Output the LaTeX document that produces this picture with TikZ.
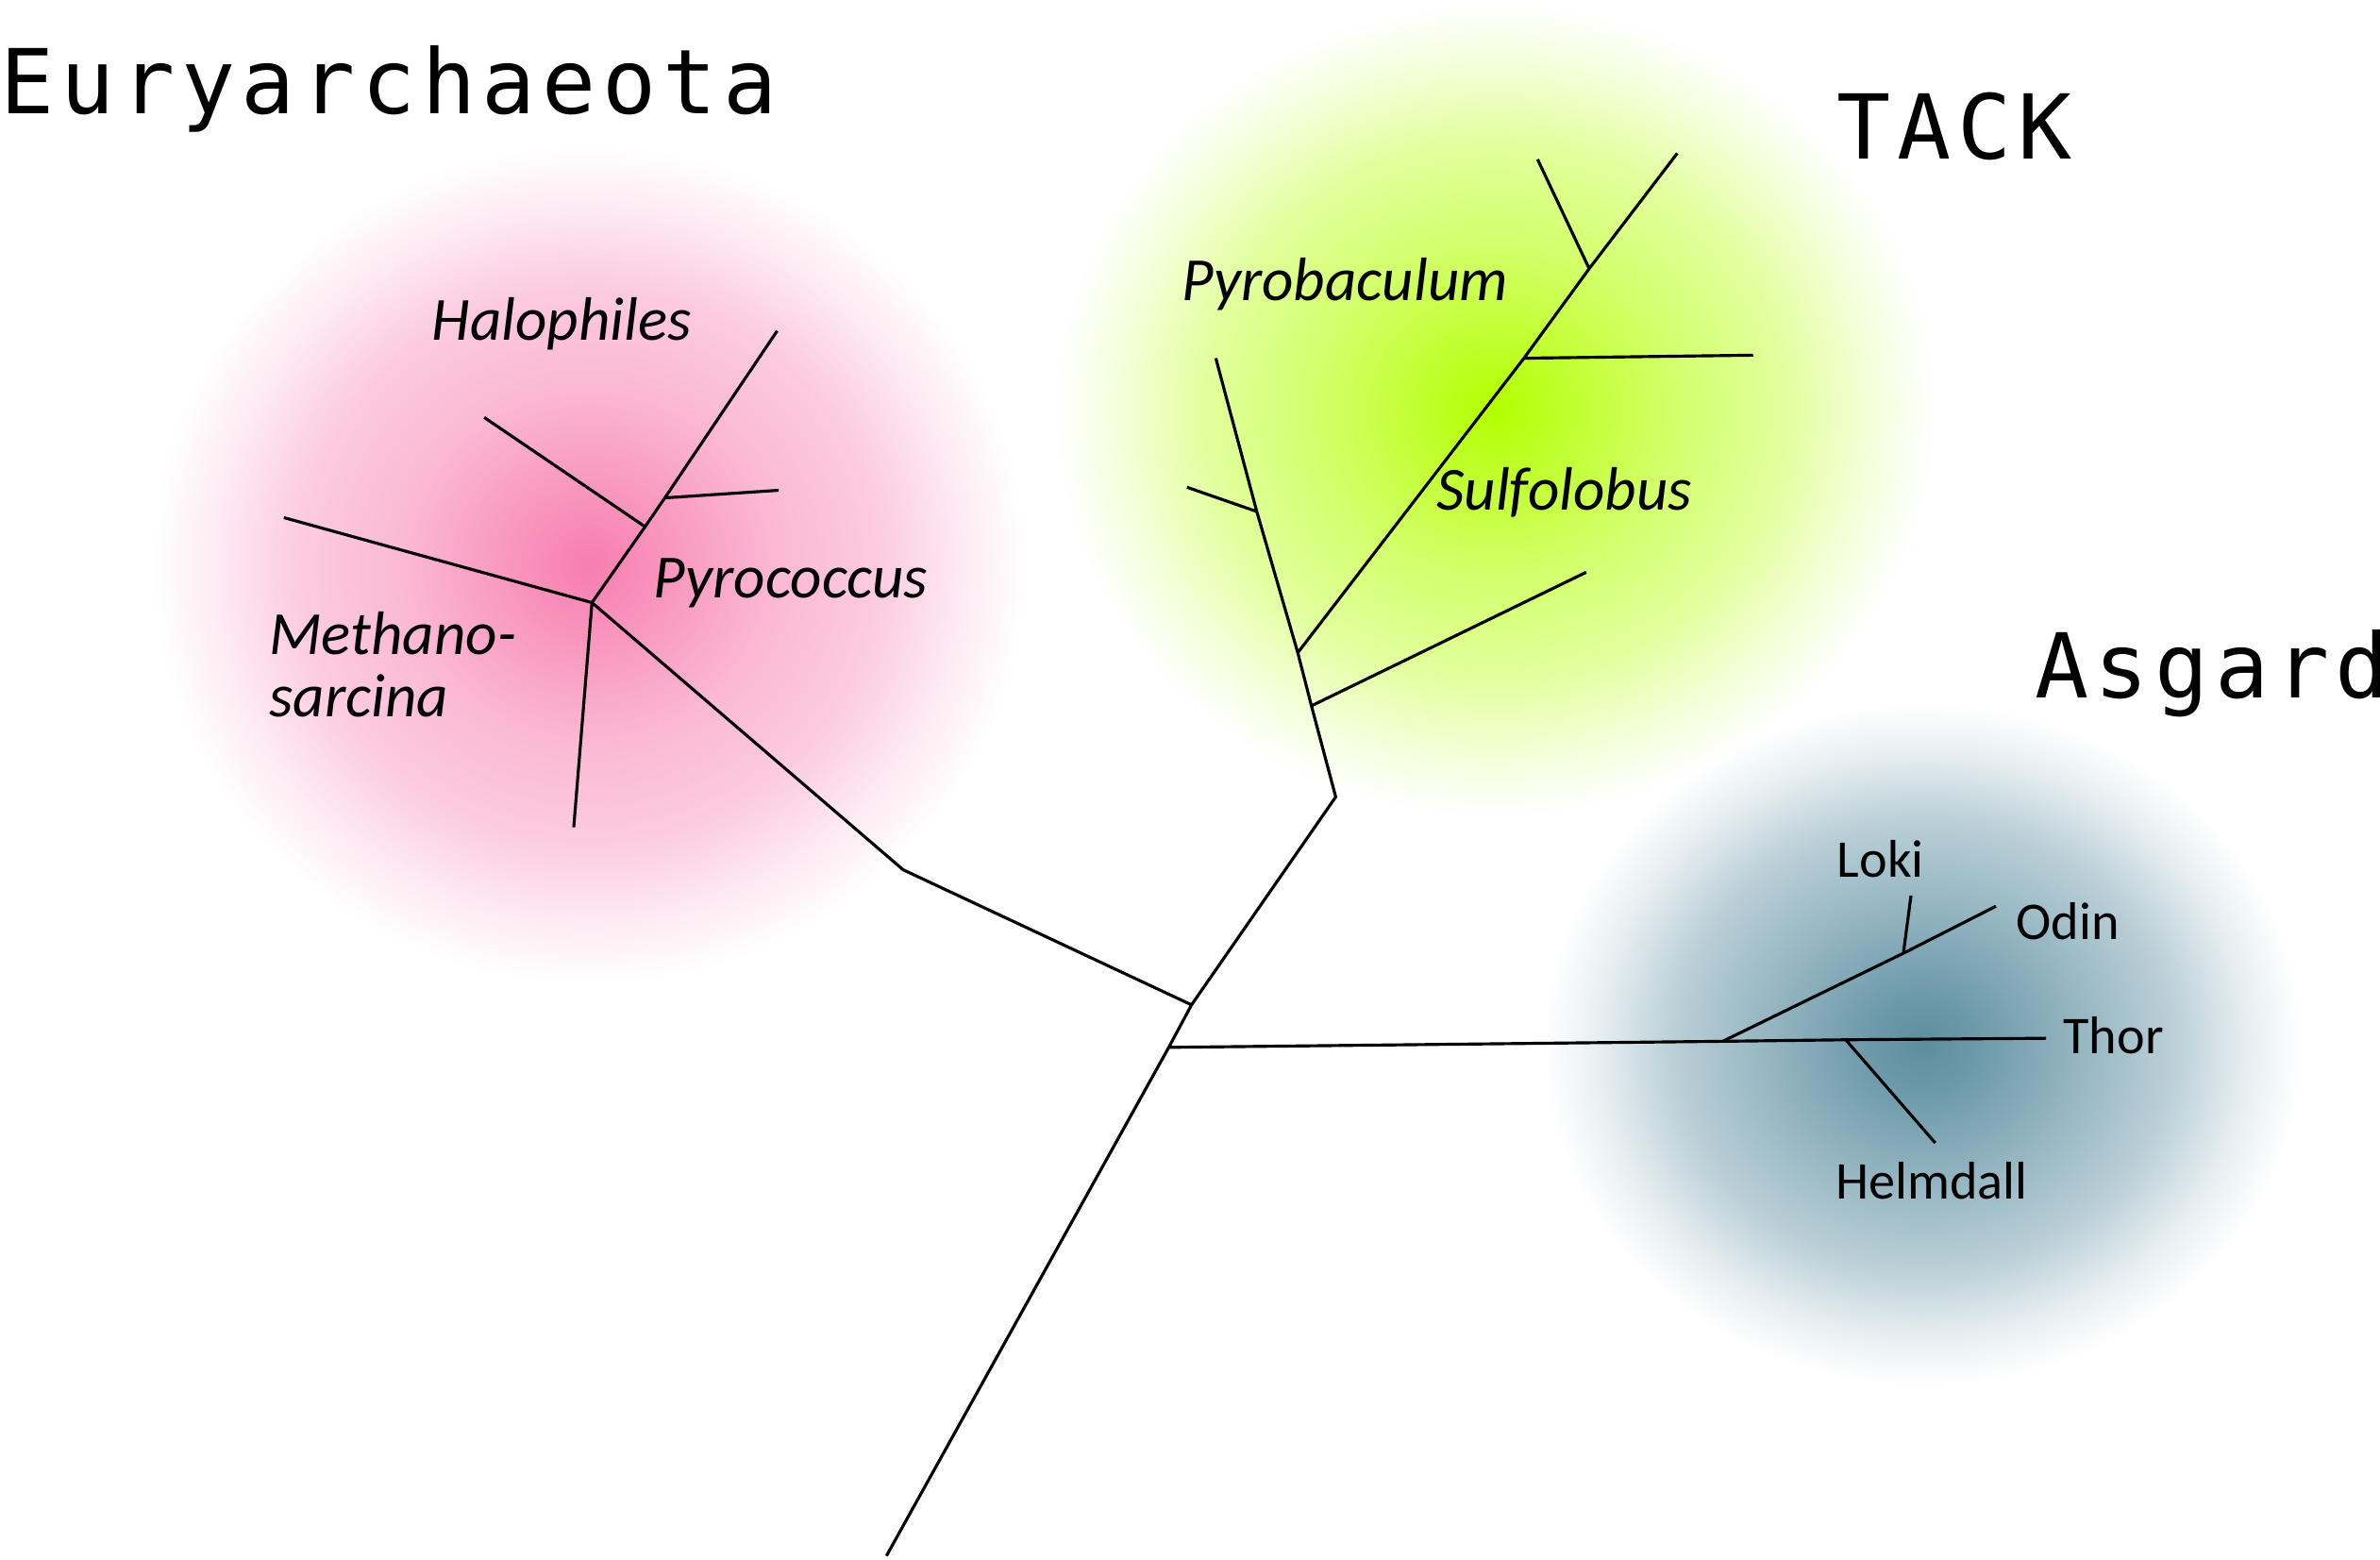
\documentclass[tikz,border=0pt]{standalone}
\usepackage{fontspec}
\setmainfont{Carlito}
\newfontfamily\cladefont[LetterSpace=7]{DejaVu Sans Mono}
\definecolor{euryc}{RGB}{247,125,175}
\definecolor{tackc}{RGB}{178,255,0}
\definecolor{asgc}{RGB}{92,142,160}
% the ellipse edge falls at 25bp of the shading
\pgfdeclareradialshading{euryglow}{\pgfpointorigin}{color(0bp)=(euryc); color(3.5bp)=(euryc!85!white); color(10.5bp)=(euryc!55!white); color(16.5bp)=(euryc!40!white); color(21.5bp)=(euryc!15!white); color(25bp)=(white); color(50bp)=(white)}
\pgfdeclareradialshading{tackglow}{\pgfpointorigin}{color(0bp)=(tackc); color(3.5bp)=(tackc!85!white); color(10.5bp)=(tackc!57!white); color(16.5bp)=(tackc!38!white); color(21.5bp)=(tackc!14!white); color(25bp)=(white); color(50bp)=(white)}
\pgfdeclareradialshading{asgglow}{\pgfpointorigin}{color(0bp)=(asgc); color(3.5bp)=(asgc!90!white); color(10.5bp)=(asgc!64!white); color(16.5bp)=(asgc!42!white); color(21.5bp)=(asgc!14!white); color(25bp)=(white); color(50bp)=(white)}
\begin{document}
\begin{tikzpicture}[x=0.016084cm,y=-0.016084cm,
	branch/.style={line width=0.9pt},
	taxon/.style={font=\fontsize{18.5}{20}\selectfont\itshape,inner sep=0pt,anchor=base west},
	asgtaxon/.style={font=\fontsize{16}{18}\selectfont,inner sep=0pt,anchor=base west},
	clade/.style={font=\cladefont\fontsize{27}{30}\selectfont,inner sep=0pt,anchor=base west}]
	\useasboundingbox (0,0) rectangle (1568,1027.7);
	% glows
	\shade[shading=euryglow] (388,372) ellipse [x radius=288, y radius=276];
	\shade[shading=tackglow] (985,270) ellipse [x radius=290, y radius=268];
	\shade[shading=asgglow] (1267,688) ellipse [x radius=250, y radius=225];
	% points of the tree
	\path
	(584,1025) coordinate (root)     % <<< trunk
	(770,690) coordinate (asgbase)
	(785,662) coordinate (top)
	(595,573) coordinate (eury)      % <<< Euryarchaeota
	(390,397) coordinate (ej)
	(187,341) coordinate (metA)
	(378,545) coordinate (metB)
	(425,347) coordinate (pyr)
	(319,275) coordinate (hal)
	(438,328) coordinate (hj)
	(513,323) coordinate (halB)
	(512,218) coordinate (halC)
	(880,525) coordinate (tack)      % <<< TACK
	(864,465) coordinate (tj)
	(855,430) coordinate (sj)
	(828,337) coordinate (pj)
	(801,236) coordinate (pbA)
	(782,321) coordinate (pbB)
	(1045,377) coordinate (sfA)
	(1004,236) coordinate (sk)
	(1155,234) coordinate (sfB)
	(1047,177) coordinate (sl)
	(1013,105) coordinate (sfC)
	(1105,101) coordinate (sfD)
	(1135,686) coordinate (aj)       % <<< Asgard
	(1216,685) coordinate (hmj)
	(1348,684) coordinate (thor)
	(1254,628) coordinate (lj)
	(1315,597) coordinate (odin)
	(1259,590) coordinate (loki)
	(1275,753) coordinate (helm);
	\draw[branch] (root)--(asgbase)--(top);
	\draw[branch] (top)--(eury)--(ej)--(metA) (ej)--(metB);
	\draw[branch] (ej)--(pyr)--(hal) (pyr)--(hj)--(halB) (hj)--(halC);
	\draw[branch] (top)--(tack)--(tj)--(sj)--(pj)--(pbA) (pj)--(pbB) (tj)--(sfA);
	\draw[branch] (sj)--(sk)--(sfB) (sk)--(sl)--(sfC) (sl)--(sfD);
	\draw[branch] (asgbase)--(aj)--(hmj)--(thor) (hmj)--(helm);
	\draw[branch] (aj)--(lj)--(odin) (lj)--(loki);
	% labels
	\path
	(0,75) node[clade] (euryname) {Euryarchaeota}
	(1210,105) node[clade] (tackname) {TACK}
	(1340,460) node[clade] (asgname) {Asgard}
	(284,224) node[taxon] (halname) {Halophiles}
	(430,394) node[taxon] (pyrname) {Pyrococcus}
	(177,431) node[taxon] (methname) {Methano-}
	(177,472) node[taxon] (sarcname) {sarcina}
	(778,198) node[taxon] (pbname) {Pyrobaculum}
	(946,336) node[taxon] (sfname) {Sulfolobus}
	(1210,578) node[asgtaxon] (lokiname) {Loki}
	(1328,619) node[asgtaxon] (odinname) {Odin}
	(1359,694) node[asgtaxon] (thorname) {Thor}
	(1209,790) node[asgtaxon] (helmname) {Helmdall};
\end{tikzpicture}
\end{document}
